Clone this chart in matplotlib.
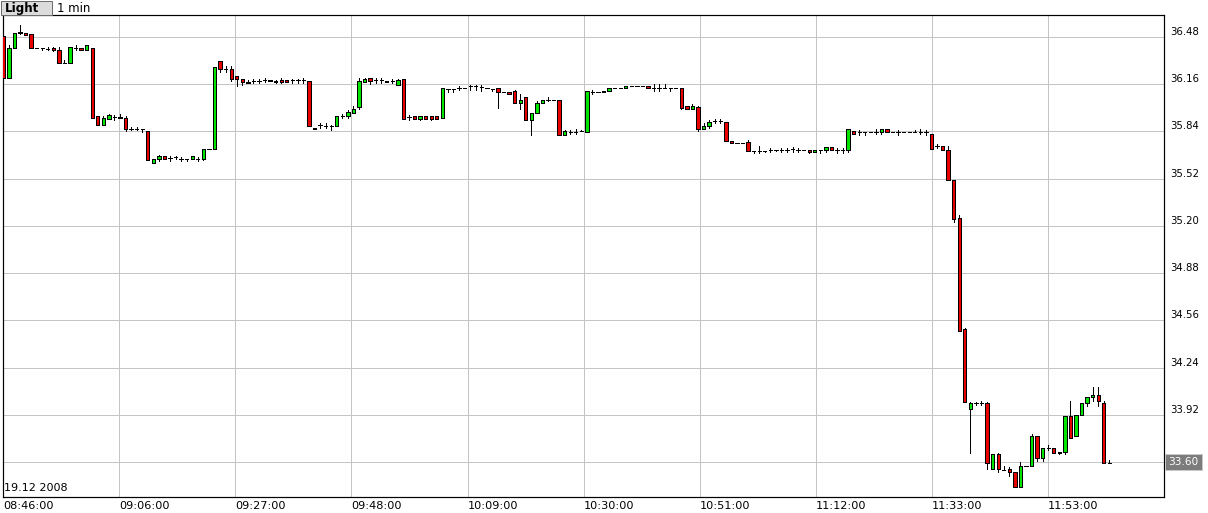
import matplotlib
matplotlib.use('Agg')
import matplotlib.pyplot as plt
from matplotlib.patches import Rectangle
import numpy as np

# ---------------- data (1-minute OHLC, 19.12.2008, from 08:46) ----------------
opens = [36.489, 36.202, 36.405, 36.515, 36.507, 36.496, 36.405, 36.405, 36.400, 36.405,
         36.394, 36.304, 36.304, 36.405, 36.405, 36.389, 36.405, 35.947, 35.881, 35.924,
         35.935, 35.935, 35.931, 35.857, 35.857, 35.857, 35.845, 35.623, 35.653, 35.674,
         35.660, 35.665, 35.653, 35.653, 35.653, 35.653, 35.653, 35.721, 35.721, 36.319,
         36.263, 36.263, 36.212, 36.193, 36.175, 36.184, 36.184, 36.186, 36.190, 36.184,
         36.190, 36.190, 36.186, 36.186, 36.186, 36.179, 35.864, 35.881, 35.879, 35.874,
         35.874, 35.942, 35.942, 35.965, 36.003, 36.175, 36.202, 36.186, 36.186, 36.184,
         36.179, 36.157, 36.197, 35.935, 35.942, 35.924, 35.942, 35.942, 35.942, 35.931,
         36.130, 36.130, 36.134, 36.134, 36.145, 36.145, 36.141, 36.134, 36.130, 36.134,
         36.104, 36.107, 36.115, 36.032, 36.073, 35.914, 35.964, 36.032, 36.055, 36.050,
         36.050, 35.813, 35.836, 35.836, 35.840, 35.836, 36.107, 36.110, 36.112, 36.116,
         36.134, 36.134, 36.134, 36.145, 36.145, 36.145, 36.145, 36.137, 36.137, 36.134,
         36.134, 36.134, 36.134, 36.010, 35.992, 36.006, 35.859, 35.874, 35.913, 35.913,
         35.904, 35.777, 35.762, 35.762, 35.765, 35.709, 35.709, 35.709, 35.716, 35.716,
         35.716, 35.716, 35.718, 35.714, 35.711, 35.716, 35.700, 35.711, 35.711, 35.735,
         35.711, 35.711, 35.711, 35.845, 35.834, 35.834, 35.834, 35.838, 35.838, 35.857,
         35.834, 35.834, 35.834, 35.834, 35.834, 35.838, 35.834, 35.823, 35.743, 35.739,
         35.716, 35.513, 35.253, 34.501, 33.959, 34.000, 34.004, 34.000, 33.553, 33.654,
         33.550, 33.555, 33.532, 33.435, 33.577, 33.577, 33.780, 33.631, 33.700, 33.700,
         33.668, 33.668, 33.914, 33.780, 33.920, 34.000, 34.040, 34.056, 34.004, 33.597]
highs = [36.489, 36.427, 36.507, 36.557, 36.507, 36.496, 36.405, 36.405, 36.413, 36.413,
         36.410, 36.320, 36.412, 36.427, 36.405, 36.427, 36.405, 35.947, 35.947, 35.958,
         35.950, 35.958, 35.947, 35.867, 35.870, 35.857, 35.845, 35.655, 35.683, 35.674,
         35.674, 35.674, 35.665, 35.653, 35.674, 35.665, 35.721, 35.721, 36.277, 36.319,
         36.280, 36.280, 36.212, 36.193, 36.190, 36.193, 36.193, 36.200, 36.190, 36.190,
         36.200, 36.190, 36.195, 36.195, 36.200, 36.179, 35.864, 35.897, 35.895, 35.885,
         35.942, 35.955, 35.987, 36.014, 36.200, 36.200, 36.202, 36.200, 36.200, 36.184,
         36.193, 36.193, 36.197, 35.948, 35.942, 35.942, 35.942, 35.945, 35.942, 36.134,
         36.130, 36.130, 36.145, 36.134, 36.157, 36.157, 36.157, 36.134, 36.130, 36.134,
         36.104, 36.107, 36.123, 36.096, 36.073, 35.964, 36.044, 36.050, 36.073, 36.050,
         36.050, 35.852, 35.850, 35.857, 35.850, 36.111, 36.120, 36.110, 36.116, 36.134,
         36.134, 36.134, 36.145, 36.145, 36.145, 36.145, 36.145, 36.160, 36.160, 36.160,
         36.134, 36.134, 36.134, 36.010, 36.026, 36.015, 35.897, 35.920, 35.924, 35.924,
         35.904, 35.777, 35.762, 35.762, 35.784, 35.709, 35.740, 35.709, 35.730, 35.716,
         35.730, 35.730, 35.733, 35.728, 35.711, 35.716, 35.716, 35.711, 35.735, 35.735,
         35.730, 35.730, 35.857, 35.845, 35.852, 35.834, 35.834, 35.857, 35.857, 35.857,
         35.834, 35.852, 35.834, 35.834, 35.852, 35.857, 35.852, 35.823, 35.755, 35.739,
         35.743, 35.513, 35.276, 34.508, 34.011, 34.011, 34.015, 34.011, 33.654, 33.665,
         33.575, 33.570, 33.532, 33.600, 33.577, 33.790, 33.780, 33.700, 33.717, 33.700,
         33.672, 33.914, 34.015, 33.920, 34.004, 34.040, 34.112, 34.112, 34.015, 33.615]
lows = [36.184, 36.202, 36.405, 36.496, 36.490, 36.405, 36.405, 36.390, 36.388, 36.382,
        36.304, 36.304, 36.304, 36.390, 36.392, 36.389, 35.931, 35.881, 35.881, 35.924,
        35.920, 35.928, 35.840, 35.847, 35.847, 35.837, 35.644, 35.623, 35.640, 35.653,
        35.640, 35.655, 35.640, 35.640, 35.653, 35.640, 35.646, 35.721, 35.721, 36.240,
        36.240, 36.179, 36.145, 36.155, 36.168, 36.168, 36.165, 36.175, 36.179, 36.170,
        36.165, 36.177, 36.165, 36.165, 36.165, 35.874, 35.857, 35.863, 35.860, 35.852,
        35.874, 35.930, 35.931, 35.965, 35.992, 36.175, 36.162, 36.170, 36.170, 36.175,
        36.165, 36.157, 35.924, 35.920, 35.924, 35.915, 35.924, 35.920, 35.924, 35.931,
        36.110, 36.110, 36.120, 36.134, 36.123, 36.123, 36.113, 36.134, 36.111, 35.997,
        36.104, 36.090, 36.032, 35.992, 35.914, 35.815, 35.964, 36.032, 36.045, 36.050,
        35.813, 35.813, 35.820, 35.823, 35.840, 35.836, 36.095, 36.110, 36.107, 36.116,
        36.134, 36.134, 36.134, 36.145, 36.145, 36.145, 36.134, 36.116, 36.116, 36.134,
        36.116, 36.134, 35.992, 35.992, 35.992, 35.840, 35.859, 35.865, 35.897, 35.900,
        35.773, 35.762, 35.762, 35.762, 35.709, 35.694, 35.694, 35.700, 35.700, 35.705,
        35.700, 35.700, 35.700, 35.700, 35.711, 35.694, 35.700, 35.694, 35.700, 35.711,
        35.694, 35.694, 35.701, 35.823, 35.818, 35.818, 35.834, 35.823, 35.823, 35.838,
        35.834, 35.818, 35.834, 35.834, 35.834, 35.823, 35.818, 35.721, 35.728, 35.716,
        35.513, 35.230, 34.492, 34.011, 33.663, 33.990, 33.990, 33.557, 33.553, 33.536,
        33.550, 33.510, 33.435, 33.435, 33.577, 33.577, 33.611, 33.611, 33.683, 33.661,
        33.658, 33.654, 33.767, 33.780, 33.920, 33.984, 34.017, 33.984, 33.597, 33.597]
closes = [36.202, 36.405, 36.507, 36.505, 36.490, 36.405, 36.405, 36.405, 36.400, 36.390,
          36.304, 36.304, 36.412, 36.405, 36.392, 36.427, 35.931, 35.881, 35.931, 35.949,
          35.935, 35.928, 35.857, 35.857, 35.857, 35.857, 35.644, 35.655, 35.674, 35.653,
          35.660, 35.665, 35.653, 35.653, 35.674, 35.653, 35.721, 35.721, 36.277, 36.263,
          36.263, 36.195, 36.197, 36.175, 36.168, 36.184, 36.184, 36.186, 36.179, 36.175,
          36.177, 36.177, 36.186, 36.186, 36.186, 35.874, 35.857, 35.881, 35.879, 35.874,
          35.942, 35.942, 35.972, 35.992, 36.179, 36.193, 36.179, 36.186, 36.186, 36.177,
          36.179, 36.186, 35.924, 35.935, 35.924, 35.942, 35.924, 35.924, 35.924, 36.134,
          36.130, 36.130, 36.134, 36.134, 36.145, 36.145, 36.141, 36.134, 36.130, 36.104,
          36.104, 36.090, 36.032, 36.055, 35.914, 35.964, 36.032, 36.050, 36.055, 36.050,
          35.813, 35.840, 35.836, 35.836, 35.840, 36.111, 36.107, 36.110, 36.107, 36.134,
          36.134, 36.134, 36.145, 36.145, 36.145, 36.145, 36.134, 36.137, 36.137, 36.134,
          36.134, 36.134, 35.999, 35.992, 36.010, 35.857, 35.879, 35.904, 35.913, 35.913,
          35.773, 35.762, 35.762, 35.762, 35.709, 35.709, 35.709, 35.709, 35.716, 35.716,
          35.716, 35.716, 35.718, 35.714, 35.711, 35.700, 35.716, 35.711, 35.735, 35.711,
          35.711, 35.711, 35.857, 35.823, 35.834, 35.834, 35.834, 35.838, 35.857, 35.838,
          35.834, 35.834, 35.834, 35.834, 35.834, 35.838, 35.834, 35.721, 35.743, 35.716,
          35.513, 35.249, 34.492, 34.011, 34.000, 34.000, 34.004, 33.593, 33.654, 33.553,
          33.550, 33.532, 33.435, 33.577, 33.577, 33.780, 33.631, 33.700, 33.700, 33.661,
          33.665, 33.914, 33.767, 33.920, 34.004, 34.040, 34.056, 34.017, 33.597, 33.597]

price_ticks = [33.60, 33.92, 34.24, 34.56, 34.88, 35.20, 35.52, 35.84, 36.16, 36.48]
time_labels = ['08:46:00', '09:06:00', '09:27:00', '09:48:00', '10:09:00',
               '10:30:00', '10:51:00', '11:12:00', '11:33:00', '11:53:00']
last_price = 33.60
date_label = '19.12 2008'
period_label = '1 min'
button_label = 'Light'

# ---------------- figure ----------------
W, H = 1208, 513
fig = plt.figure(figsize=(W / 100, H / 100), dpi=100)
fig.patch.set_facecolor('white')
ax = fig.add_axes([3 / W, (H - 497) / H, 1161.3 / W, 482 / H])

x0, x1 = -0.054, 208.89
ax.set_xlim(x0, x1)
ax.set_ylim(33.365, 36.628)

PX = 0.72  # 1 pixel in points
grid_col = '#c4c4c4'

# grid
xgrid = [x0 + k * (x1 - x0) / 10 for k in range(10)]
for gx in xgrid[1:]:
    ax.axvline(gx, color=grid_col, lw=PX, zorder=0)
for gy in price_ticks:
    ax.axhline(gy, color=grid_col, lw=PX, zorder=0)

# candles
w = 0.6
for i, (o, h, l, c) in enumerate(zip(opens, highs, lows, closes)):
    if h > l:
        ax.vlines(i, l, h, color='black', lw=PX, zorder=2, antialiased=False)
    if abs(c - o) < 1e-9:
        ax.hlines(o, i - w / 2, i + w / 2, color='black', lw=PX, zorder=3,
                  antialiased=False)
    else:
        fc = '#00e400' if c > o else '#e80000'
        ax.add_patch(Rectangle((i - w / 2, min(o, c)), w, abs(c - o),
                               facecolor=fc, edgecolor='black', lw=PX, zorder=3,
                               antialiased=False))

# axes styling
for s in ax.spines.values():
    s.set_linewidth(PX * 1.2)
    s.set_color('black')

ax.set_xticks(xgrid)
ax.set_xticklabels(time_labels, fontsize=8.1, family='DejaVu Sans')
for lbl in ax.get_xticklabels():
    lbl.set_horizontalalignment('left')
ax.tick_params(axis='x', length=0, pad=3)

ax.yaxis.tick_right()
ax.set_yticks(price_ticks)
ax.set_yticklabels(['' if abs(t - last_price) < 1e-9 else f'{t:.2f}' for t in price_ticks],
                   fontsize=7.3)
for lbl in ax.get_yticklabels():
    lbl.set_verticalalignment('bottom')
ax.tick_params(axis='y', length=0, pad=4)

# last price marker
ax.text(1.0 + 4 / 1161.3, last_price, f'{last_price:.2f}', transform=ax.get_yaxis_transform(),
        ha='left', va='center', fontsize=7.6, color='white',
        bbox=dict(boxstyle='square,pad=0.3', facecolor='#7c7c7c', edgecolor='#c8c8c8', lw=PX))

# date label inside plot
fig.text(4 / W, 1 - 488 / H, date_label, ha='left', va='center', fontsize=8)

# header: button + period
fig.patches.append(Rectangle((1 / W, 1 - 15 / H), 51 / W, 14 / H, transform=fig.transFigure,
                             facecolor='#dcdcdc', edgecolor='#6e6e6e', lw=PX))
fig.text(5 / W, 1 - 8.5 / H, button_label, ha='left', va='center', fontsize=8.6, fontweight='bold')
fig.text(57 / W, 1 - 8.5 / H, period_label, ha='left', va='center', fontsize=8.4)

fig.savefig('out.png', dpi=100, facecolor='white')
